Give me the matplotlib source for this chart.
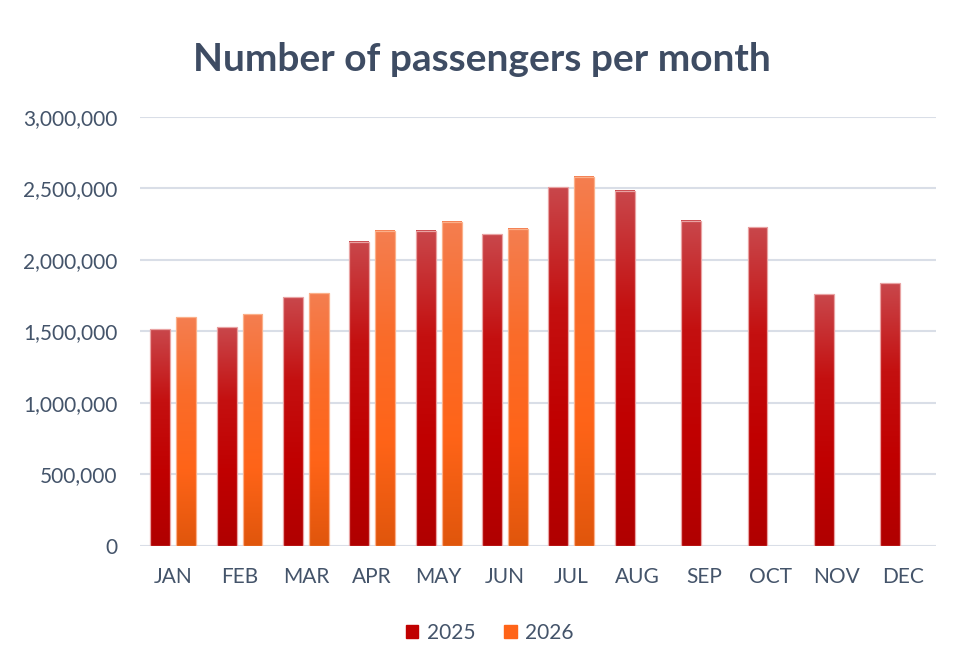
import numpy as np
import matplotlib
matplotlib.use("Agg")
import matplotlib.pyplot as plt
from matplotlib.colors import LinearSegmentedColormap
from matplotlib.ticker import FuncFormatter

# Monthly passenger counts
months = ["JAN", "FEB", "MAR", "APR", "MAY", "JUN",
          "JUL", "AUG", "SEP", "OCT", "NOV", "DEC"]
pax_2025 = [1517000, 1528000, 1738000, 2126000, 2203000, 2179000,
            2508000, 2483000, 2275000, 2228000, 1762000, 1839000]
pax_2026 = [1598000, 1621000, 1769000, 2203000, 2268000, 2219000,
            2583000]
series_labels = ["2025", "2026"]

TEXT = "#44546A"
GRID = "#D9DEE7"

# top -> bottom gradient per series
grad_2025 = LinearSegmentedColormap.from_list(
    "g25", ["#C9474B", "#C41010", "#C00000", "#B00000"])
grad_2026 = LinearSegmentedColormap.from_list(
    "g26", ["#F47E50", "#FA6C2A", "#FF6418", "#E0560C"])

plt.rcParams["font.family"] = ["Lato", "DejaVu Sans"]

fig = plt.figure(figsize=(9.7, 6.72), dpi=100)
ax = fig.add_axes([0.1443, 0.1875, 0.8210, 0.6384])

x = np.arange(len(months))
w, off = 0.30, 0.195

b1 = ax.bar(x[:len(pax_2025)] - off, pax_2025, w, facecolor="none",
            edgecolor="none", label=series_labels[0], zorder=3)
b2 = ax.bar(x[:len(pax_2026)] + off, pax_2026, w, facecolor="none",
            edgecolor="none", label=series_labels[1], zorder=3)

grad = np.linspace(0, 1, 256).reshape(-1, 1)
ymax = 3000000
for bars, cmap, ec in [(b1, grad_2025, "#E9A3A3"), (b2, grad_2026, "#FBB08A")]:
    for p in bars:
        x0, h = p.get_x(), p.get_height()
        ax.imshow(grad, cmap=cmap, aspect="auto", origin="upper",
                  extent=(x0, x0 + p.get_width(), 0, h), zorder=3,
                  vmin=0, vmax=1, interpolation="bicubic")
        ax.add_patch(plt.Rectangle((x0, 0), p.get_width(), h, fill=False,
                                   edgecolor=ec, lw=0.9, zorder=4))

ax.set_xlim(-0.5, len(months) - 0.5)
ax.set_ylim(0, ymax)
ax.set_yticks(np.arange(0, ymax + 1, 500000))
ax.yaxis.set_major_formatter(FuncFormatter(lambda v, _: f"{int(v):,}"))
ax.set_xticks(x)
ax.set_xticklabels(months)
ax.tick_params(length=0, labelsize=15, colors=TEXT)
ax.tick_params(axis="y", pad=16)
ax.tick_params(axis="x", pad=15)
ax.grid(axis="y", color=GRID, lw=1.5, zorder=0)
ax.set_axisbelow(True)
for s in ax.spines.values():
    s.set_visible(False)

fig.text(0.497, 0.912, "Number of passengers per month", ha="center",
         va="center", fontsize=28, fontweight="bold", color="#3E4C63")

# legend with flat swatches
h1 = plt.Rectangle((0, 0), 1, 1, color="#C00000")
h2 = plt.Rectangle((0, 0), 1, 1, color="#FF6418")
fig.legend([h1, h2], series_labels, loc="center", bbox_to_anchor=(0.505, 0.058),
           ncol=2, frameon=False, fontsize=15, labelcolor=TEXT,
           handlelength=0.6, handleheight=0.6, handletextpad=0.4,
           columnspacing=1.4)

fig.savefig("out.png", dpi=100)
